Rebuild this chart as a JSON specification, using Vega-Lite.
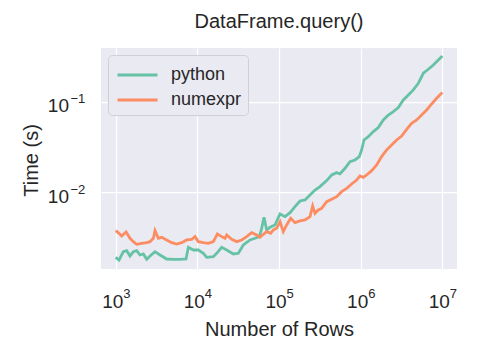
{
  "$schema": "https://vega.github.io/schema/vega-lite/v6.json",
  "width": 356,
  "height": 221,
  "autosize": {"type": "none"},
  "padding": {"left": 101, "top": 48, "right": 23, "bottom": 91},
  "background": "white",
  "title": {
    "text": "DataFrame.query()",
    "font": "Liberation Sans",
    "fontSize": 20,
    "fontWeight": "normal",
    "color": "#262626",
    "baseline": "alphabetic",
    "offset": 0
  },
  "config": {
    "view": {"fill": "#EAEAF2", "stroke": null},
    "font": "Liberation Sans",
    "axis": {
      "domain": false,
      "ticks": false,
      "tickSize": 0,
      "gridColor": "#FFFFFF",
      "gridWidth": 1.25,
      "labelFont": "Liberation Sans",
      "labelColor": "#262626",
      "titleFont": "Liberation Sans",
      "titleFontSize": 20,
      "titleFontWeight": "normal",
      "titleColor": "#262626",
      "labelOverlap": false,
      "labelFlush": false,
      "labelBound": false
    }
  },
  "data": {
    "values": [
      {"n": 1000, "t": 0.001896, "method": "python"},
      {"n": 1099, "t": 0.00177, "method": "python"},
      {"n": 1241, "t": 0.002192, "method": "python"},
      {"n": 1364, "t": 0.002248, "method": "python"},
      {"n": 1498, "t": 0.001962, "method": "python"},
      {"n": 1645, "t": 0.002192, "method": "python"},
      {"n": 1807, "t": 0.002248, "method": "python"},
      {"n": 1986, "t": 0.002012, "method": "python"},
      {"n": 2182, "t": 0.002064, "method": "python"},
      {"n": 2397, "t": 0.001801, "method": "python"},
      {"n": 2633, "t": 0.001962, "method": "python"},
      {"n": 3031, "t": 0.002192, "method": "python"},
      {"n": 3491, "t": 0.002012, "method": "python"},
      {"n": 4212, "t": 0.001816, "method": "python"},
      {"n": 5084, "t": 0.001801, "method": "python"},
      {"n": 6135, "t": 0.001801, "method": "python"},
      {"n": 7264, "t": 0.001816, "method": "python"},
      {"n": 7758, "t": 0.002448, "method": "python"},
      {"n": 8933, "t": 0.002287, "method": "python"},
      {"n": 10285, "t": 0.002287, "method": "python"},
      {"n": 11845, "t": 0.002101, "method": "python"},
      {"n": 13014, "t": 0.001896, "method": "python"},
      {"n": 15705, "t": 0.001929, "method": "python"},
      {"n": 17250, "t": 0.002101, "method": "python"},
      {"n": 19861, "t": 0.002448, "method": "python"},
      {"n": 22870, "t": 0.002287, "method": "python"},
      {"n": 27600, "t": 0.002064, "method": "python"},
      {"n": 31770, "t": 0.002101, "method": "python"},
      {"n": 36590, "t": 0.002599, "method": "python"},
      {"n": 44150, "t": 0.002955, "method": "python"},
      {"n": 50840, "t": 0.003083, "method": "python"},
      {"n": 57440, "t": 0.003217, "method": "python"},
      {"n": 61350, "t": 0.003981, "method": "python"},
      {"n": 65520, "t": 0.005275, "method": "python"},
      {"n": 70630, "t": 0.003815, "method": "python"},
      {"n": 77580, "t": 0.004084, "method": "python"},
      {"n": 89330, "t": 0.004335, "method": "python"},
      {"n": 102850, "t": 0.005743, "method": "python"},
      {"n": 118450, "t": 0.005365, "method": "python"},
      {"n": 136400, "t": 0.005942, "method": "python"},
      {"n": 157000, "t": 0.006931, "method": "python"},
      {"n": 180700, "t": 0.008012, "method": "python"},
      {"n": 208200, "t": 0.00822, "method": "python"},
      {"n": 239700, "t": 0.009341, "method": "python"},
      {"n": 276000, "t": 0.01061, "method": "python"},
      {"n": 317700, "t": 0.01156, "method": "python"},
      {"n": 383500, "t": 0.01348, "method": "python"},
      {"n": 441500, "t": 0.01558, "method": "python"},
      {"n": 508400, "t": 0.01654, "method": "python"},
      {"n": 558500, "t": 0.01599, "method": "python"},
      {"n": 643000, "t": 0.01848, "method": "python"},
      {"n": 740300, "t": 0.02192, "method": "python"},
      {"n": 852300, "t": 0.02287, "method": "python"},
      {"n": 963000, "t": 0.0249, "method": "python"},
      {"n": 1028500, "t": 0.02955, "method": "python"},
      {"n": 1098500, "t": 0.03815, "method": "python"},
      {"n": 1241000, "t": 0.04155, "method": "python"},
      {"n": 1429000, "t": 0.04721, "method": "python"},
      {"n": 1645000, "t": 0.05231, "method": "python"},
      {"n": 1895000, "t": 0.06363, "method": "python"},
      {"n": 2182000, "t": 0.07231, "method": "python"},
      {"n": 2512000, "t": 0.07875, "method": "python"},
      {"n": 2892000, "t": 0.08724, "method": "python"},
      {"n": 3331000, "t": 0.1061, "method": "python"},
      {"n": 3835000, "t": 0.1206, "method": "python"},
      {"n": 4415000, "t": 0.1371, "method": "python"},
      {"n": 5084000, "t": 0.1626, "method": "python"},
      {"n": 5853000, "t": 0.2101, "method": "python"},
      {"n": 6740000, "t": 0.2326, "method": "python"},
      {"n": 7758000, "t": 0.2599, "method": "python"},
      {"n": 8933000, "t": 0.2955, "method": "python"},
      {"n": 10000000, "t": 0.3272, "method": "python"},
      {"n": 1000, "t": 0.00375, "method": "numexpr"},
      {"n": 1099, "t": 0.003502, "method": "numexpr"},
      {"n": 1184, "t": 0.003272, "method": "numexpr"},
      {"n": 1339, "t": 0.003624, "method": "numexpr"},
      {"n": 1498, "t": 0.003083, "method": "numexpr"},
      {"n": 1645, "t": 0.002831, "method": "numexpr"},
      {"n": 1807, "t": 0.002644, "method": "numexpr"},
      {"n": 2082, "t": 0.002713, "method": "numexpr"},
      {"n": 2397, "t": 0.002759, "method": "numexpr"},
      {"n": 2633, "t": 0.002831, "method": "numexpr"},
      {"n": 2893, "t": 0.003083, "method": "numexpr"},
      {"n": 3031, "t": 0.00375, "method": "numexpr"},
      {"n": 3331, "t": 0.003083, "method": "numexpr"},
      {"n": 3659, "t": 0.003162, "method": "numexpr"},
      {"n": 4212, "t": 0.002955, "method": "numexpr"},
      {"n": 4851, "t": 0.002759, "method": "numexpr"},
      {"n": 5585, "t": 0.002666, "method": "numexpr"},
      {"n": 6430, "t": 0.002759, "method": "numexpr"},
      {"n": 7403, "t": 0.002955, "method": "numexpr"},
      {"n": 8523, "t": 0.003005, "method": "numexpr"},
      {"n": 9363, "t": 0.003217, "method": "numexpr"},
      {"n": 10285, "t": 0.002831, "method": "numexpr"},
      {"n": 11845, "t": 0.002759, "method": "numexpr"},
      {"n": 13640, "t": 0.002713, "method": "numexpr"},
      {"n": 15705, "t": 0.002831, "method": "numexpr"},
      {"n": 17580, "t": 0.003443, "method": "numexpr"},
      {"n": 19861, "t": 0.003217, "method": "numexpr"},
      {"n": 21820, "t": 0.003083, "method": "numexpr"},
      {"n": 22870, "t": 0.003357, "method": "numexpr"},
      {"n": 26330, "t": 0.003005, "method": "numexpr"},
      {"n": 30310, "t": 0.002831, "method": "numexpr"},
      {"n": 34910, "t": 0.002955, "method": "numexpr"},
      {"n": 40190, "t": 0.003217, "method": "numexpr"},
      {"n": 46270, "t": 0.003564, "method": "numexpr"},
      {"n": 53280, "t": 0.003357, "method": "numexpr"},
      {"n": 58530, "t": 0.003162, "method": "numexpr"},
      {"n": 64300, "t": 0.003414, "method": "numexpr"},
      {"n": 70630, "t": 0.003656, "method": "numexpr"},
      {"n": 79070, "t": 0.003502, "method": "numexpr"},
      {"n": 85230, "t": 0.003815, "method": "numexpr"},
      {"n": 93630, "t": 0.003981, "method": "numexpr"},
      {"n": 102850, "t": 0.004721, "method": "numexpr"},
      {"n": 113000, "t": 0.003656, "method": "numexpr"},
      {"n": 124100, "t": 0.004335, "method": "numexpr"},
      {"n": 139000, "t": 0.005142, "method": "numexpr"},
      {"n": 157000, "t": 0.004602, "method": "numexpr"},
      {"n": 180700, "t": 0.004803, "method": "numexpr"},
      {"n": 208200, "t": 0.004928, "method": "numexpr"},
      {"n": 239700, "t": 0.005365, "method": "numexpr"},
      {"n": 258400, "t": 0.007047, "method": "numexpr"},
      {"n": 276000, "t": 0.005843, "method": "numexpr"},
      {"n": 303100, "t": 0.006363, "method": "numexpr"},
      {"n": 333100, "t": 0.006643, "method": "numexpr"},
      {"n": 383500, "t": 0.007875, "method": "numexpr"},
      {"n": 441500, "t": 0.008361, "method": "numexpr"},
      {"n": 508400, "t": 0.008952, "method": "numexpr"},
      {"n": 585300, "t": 0.01017, "method": "numexpr"},
      {"n": 674000, "t": 0.01108, "method": "numexpr"},
      {"n": 775800, "t": 0.01238, "method": "numexpr"},
      {"n": 893300, "t": 0.01371, "method": "numexpr"},
      {"n": 981300, "t": 0.01519, "method": "numexpr"},
      {"n": 1078000, "t": 0.01468, "method": "numexpr"},
      {"n": 1184000, "t": 0.01558, "method": "numexpr"},
      {"n": 1364000, "t": 0.01741, "method": "numexpr"},
      {"n": 1570000, "t": 0.02012, "method": "numexpr"},
      {"n": 1807000, "t": 0.0249, "method": "numexpr"},
      {"n": 2082000, "t": 0.02955, "method": "numexpr"},
      {"n": 2397000, "t": 0.03357, "method": "numexpr"},
      {"n": 2760000, "t": 0.03815, "method": "numexpr"},
      {"n": 3177000, "t": 0.04225, "method": "numexpr"},
      {"n": 3659000, "t": 0.05012, "method": "numexpr"},
      {"n": 4212000, "t": 0.05843, "method": "numexpr"},
      {"n": 4851000, "t": 0.06363, "method": "numexpr"},
      {"n": 5585000, "t": 0.07231, "method": "numexpr"},
      {"n": 6430000, "t": 0.0822, "method": "numexpr"},
      {"n": 7403000, "t": 0.09583, "method": "numexpr"},
      {"n": 8523000, "t": 0.1108, "method": "numexpr"},
      {"n": 10000000, "t": 0.1281, "method": "numexpr"}
    ]
  },
  "layer": [
    {
      "mark": {"type": "line", "strokeWidth": 2.8, "clip": true},
      "encoding": {
        "x": {
          "field": "n",
          "type": "quantitative",
          "scale": {"type": "log", "domain": [660.7, 15135612], "nice": false, "zero": false},
          "axis": {
            "orient": "bottom",
            "grid": true,
            "title": "Number of Rows",
            "values": [1000, 10000, 100000, 1000000, 10000000],
            "labelExpr": "'10'",
            "labelFontSize": 19,
            "labelOffset": -3.5,
            "labelBaseline": "alphabetic",
            "labelPadding": 38,
            "titleBaseline": "alphabetic",
            "titleY": 66
          }
        },
        "y": {
          "field": "t",
          "type": "quantitative",
          "scale": {"type": "log", "domain": [0.001406, 0.401], "nice": false, "zero": false},
          "axis": {
            "orient": "left",
            "grid": true,
            "title": "Time (s)",
            "values": [0.01, 0.1],
            "labelExpr": "'10'",
            "labelFontSize": 19,
            "labelAlign": "right",
            "labelBaseline": "alphabetic",
            "labelOffset": 9.7,
            "labelPadding": 32.5,
            "titleBaseline": "alphabetic",
            "titleAlign": "center",
            "titleAngle": -90,
            "titleX": -64,
            "titleY": 112
          }
        },
        "color": {
          "field": "method",
          "type": "nominal",
          "sort": ["python", "numexpr"],
          "scale": {"domain": ["python", "numexpr"], "range": ["#66c2a5", "#fc8d62"]},
          "legend": {
            "title": null,
            "orient": "top-left",
            "offset": 7,
            "fillColor": "#EAEAF2",
            "strokeColor": "#D0D0D6",
            "cornerRadius": 4,
            "padding": 6,
            "symbolOffset": 2,
            "symbolType": "M-1,0H2.2",
            "symbolSize": 625,
            "symbolStrokeWidth": 2.8,
            "labelFont": "Liberation Sans",
            "labelFontSize": 18,
            "labelColor": "#262626",
            "labelOffset": 27,
            "rowPadding": 2
          }
        }
      }
    },
    {
      "mark": {"type": "point", "opacity": 0},
      "encoding": {
        "x": {
          "field": "n",
          "type": "quantitative",
          "scale": {"type": "log", "domain": [660.7, 15135612], "nice": false, "zero": false},
          "axis": {
            "orient": "bottom",
            "grid": false,
            "title": null,
            "values": [1000, 10000, 100000, 1000000, 10000000],
            "labelExpr": "'' + round(log(datum.value)/LN10)",
            "labelFontSize": 13,
            "labelOffset": 10.6,
            "labelBaseline": "alphabetic",
            "labelPadding": 28.3
          }
        },
        "y": {
          "field": "t",
          "type": "quantitative",
          "scale": {"type": "log", "domain": [0.001406, 0.401], "nice": false, "zero": false},
          "axis": {
            "orient": "left",
            "grid": false,
            "title": null,
            "values": [0.01, 0.1],
            "labelExpr": "'−' + abs(round(log(datum.value)/LN10))",
            "labelFontSize": 13,
            "labelAlign": "left",
            "labelBaseline": "alphabetic",
            "labelOffset": 0.7,
            "labelPadding": 31
          }
        }
      }
    }
  ],
  "resolve": {"axis": {"x": "independent", "y": "independent"}}
}
